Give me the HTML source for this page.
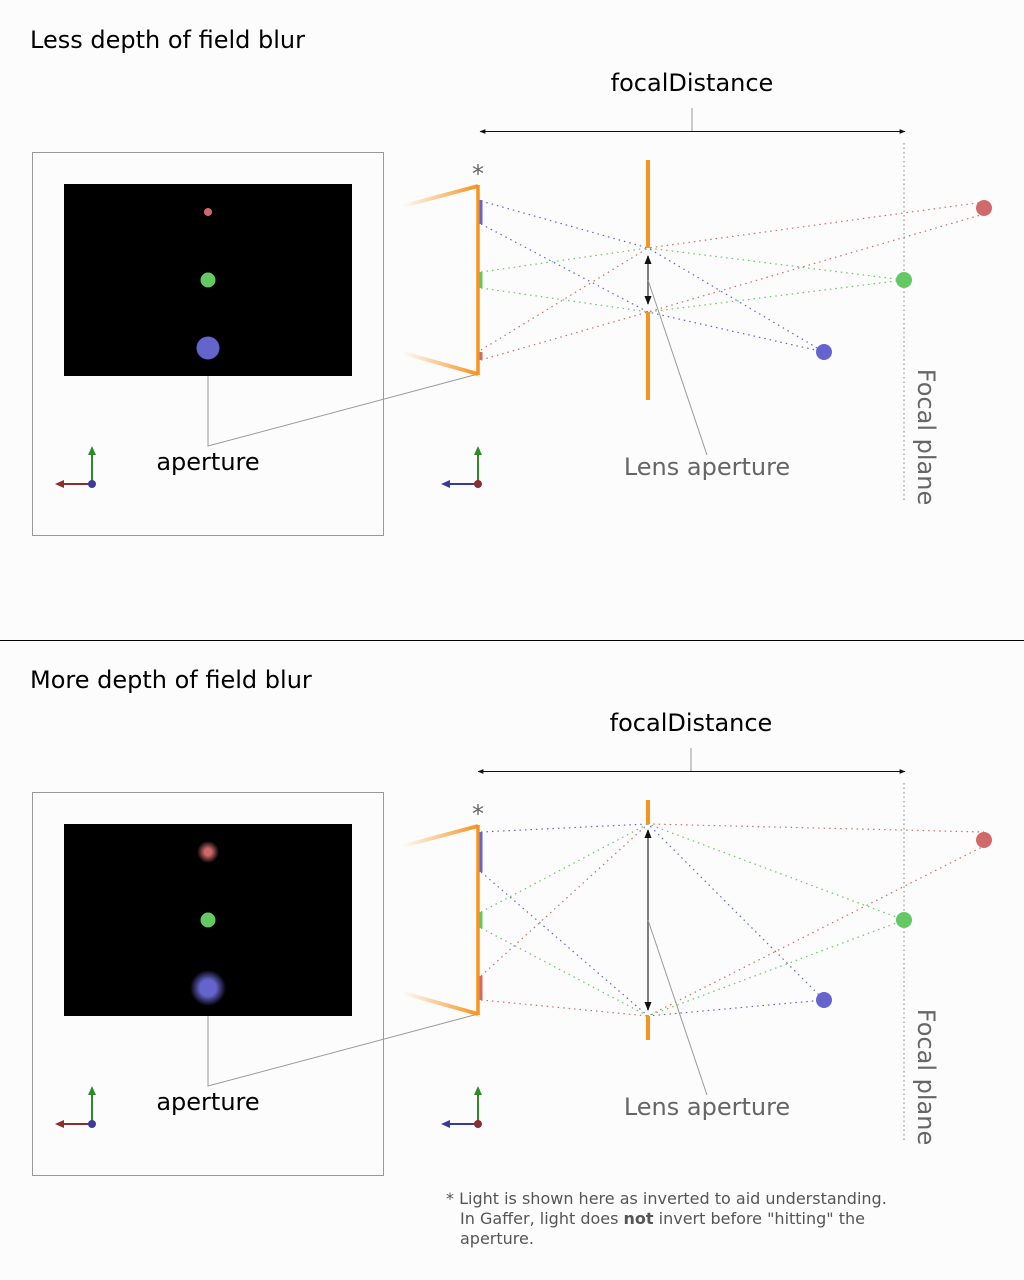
<!DOCTYPE html>
<html><head><meta charset="utf-8"><style>
html,body{margin:0;padding:0;background:#fcfcfc;}
svg{display:block;font-family:"DejaVu Sans","Liberation Sans",sans-serif;}
</style></head><body>
<svg width="1024" height="1280" viewBox="0 0 1024 1280" xmlns="http://www.w3.org/2000/svg">
<defs>
<linearGradient id="og" x1="0" y1="0" x2="1" y2="0"><stop offset="0" stop-color="#f7931e" stop-opacity="0"/><stop offset="1" stop-color="#f7931e"/></linearGradient>
<radialGradient id="rb"><stop offset="0.3" stop-color="#d06a6a"/><stop offset="1" stop-color="#d06a6a" stop-opacity="0"/></radialGradient>
<radialGradient id="bb"><stop offset="0.45" stop-color="#6464cc"/><stop offset="1" stop-color="#6464cc" stop-opacity="0"/></radialGradient>
<marker id="ah" viewBox="0 0 10 10" refX="9" refY="5" markerWidth="6" markerHeight="6" orient="auto-start-reverse"><path d="M0,1 L10,5 L0,9 z" fill="#111"/></marker>
</defs>
<rect width="1024" height="1280" fill="#fcfcfc"/>
<line x1="0" y1="640.5" x2="1024" y2="640.5" stroke="#000" stroke-width="1"/>

<!-- TOP -->
<g>
<text x="30" y="48" font-size="24" fill="#000">Less depth of field blur</text>
<rect x="32.5" y="152.5" width="351" height="383" fill="none" stroke="#999" stroke-width="1"/>
<rect x="64" y="184" width="288" height="192" fill="#000"/>
<circle cx="208" cy="212" r="4" fill="#d06a6a"/>
<circle cx="208" cy="280" r="7.5" fill="#64c864"/>
<circle cx="208" cy="348" r="11.5" fill="#6464cc"/>
<polyline points="208,376 208,446 478,374" fill="none" stroke="#999" stroke-width="1"/>
<text x="208" y="470" font-size="24" text-anchor="middle" fill="#000">aperture</text>
<line x1="403" y1="206" x2="478" y2="186" stroke="url(#og)" stroke-width="4"/>
<line x1="403" y1="353" x2="478" y2="374" stroke="url(#og)" stroke-width="4"/>
<line x1="478" y1="185" x2="478" y2="375" stroke="#f7931e" stroke-width="3.5"/>
<text x="478" y="182" font-size="24" text-anchor="middle" fill="#666">*</text>
<rect x="479.5" y="200" width="3" height="24" fill="#6464cc"/>
<rect x="479.5" y="272" width="3" height="16" fill="#64c864"/>
<rect x="479.5" y="352" width="3" height="8" fill="#d06a6a"/>
<g fill="none" stroke-width="1.2" stroke-dasharray="1.5 4">
<polyline points="481,201 648,248 824,352" stroke="#6464cc"/>
<polyline points="481,224 648,312 824,352" stroke="#6464cc"/>
<polyline points="481,272 648,248 904,280" stroke="#64c864"/>
<polyline points="481,288 648,312 904,280" stroke="#64c864"/>
<polyline points="481,350 648,248 984,202" stroke="#d06a6a"/>
<polyline points="481,360 648,312 984,214" stroke="#d06a6a"/>
</g>
<line x1="648" y1="160" x2="648" y2="248" stroke="#f7931e" stroke-width="4"/>
<line x1="648" y1="312" x2="648" y2="400" stroke="#f7931e" stroke-width="4"/>
<line x1="648" y1="256" x2="648" y2="304" stroke="#555" stroke-width="1.5" marker-start="url(#ah)" marker-end="url(#ah)"/>
<line x1="648" y1="280" x2="707" y2="455" stroke="#999" stroke-width="1"/>
<text x="707" y="475" font-size="24" text-anchor="middle" fill="#666">Lens aperture</text>
<text x="692" y="91" font-size="24" text-anchor="middle" fill="#000">focalDistance</text>
<line x1="480" y1="131.5" x2="905" y2="131.5" stroke="#111" stroke-width="1" marker-start="url(#ah)" marker-end="url(#ah)"/>
<line x1="692" y1="108" x2="692" y2="131" stroke="#999" stroke-width="1"/>
<line x1="904" y1="143" x2="904" y2="500" stroke="#999" stroke-width="1.2" stroke-dasharray="1.5 3"/>
<text transform="translate(918,437) rotate(90)" font-size="24" text-anchor="middle" fill="#666">Focal plane</text>
<circle cx="984" cy="208" r="8" fill="#d06a6a"/>
<circle cx="904" cy="280" r="8" fill="#64c864"/>
<circle cx="824" cy="352" r="8" fill="#6464cc"/>
<line x1="92" y1="484" x2="92" y2="453" stroke="#2e8b2e" stroke-width="2"/><path d="M88,455 L92,446 L96,455z" fill="#2e8b2e"/>
<line x1="92" y1="484" x2="62" y2="484" stroke="#8b2e2e" stroke-width="2"/><path d="M64,480 L55,484 L64,488z" fill="#8b2e2e"/>
<circle cx="92" cy="484" r="4" fill="#3a3a9a"/>
<line x1="478" y1="484" x2="478" y2="453" stroke="#2e8b2e" stroke-width="2"/><path d="M474,455 L478,446 L482,455z" fill="#2e8b2e"/>
<line x1="478" y1="484" x2="448" y2="484" stroke="#3a3a9a" stroke-width="2"/><path d="M450,480 L441,484 L450,488z" fill="#3a3a9a"/>
<circle cx="478" cy="484" r="4" fill="#8b2e2e"/>
</g>

<!-- BOTTOM -->
<g transform="translate(0,640)">
<text x="30" y="48" font-size="24" fill="#000">More depth of field blur</text>
<rect x="32.5" y="152.5" width="351" height="383" fill="none" stroke="#999" stroke-width="1"/>
<rect x="64" y="184" width="288" height="192" fill="#000"/>
<circle cx="208" cy="212" r="11" fill="url(#rb)"/>
<circle cx="208" cy="280" r="7.5" fill="#64c864"/>
<circle cx="208" cy="348" r="18" fill="url(#bb)"/>
<polyline points="208,376 208,446 478,374" fill="none" stroke="#999" stroke-width="1"/>
<text x="208" y="470" font-size="24" text-anchor="middle" fill="#000">aperture</text>
<line x1="403" y1="206" x2="478" y2="186" stroke="url(#og)" stroke-width="4"/>
<line x1="403" y1="353" x2="478" y2="374" stroke="url(#og)" stroke-width="4"/>
<line x1="478" y1="185" x2="478" y2="375" stroke="#f7931e" stroke-width="3.5"/>
<text x="478" y="182" font-size="24" text-anchor="middle" fill="#666">*</text>
<rect x="479.5" y="192" width="3" height="40" fill="#6464cc"/>
<rect x="479.5" y="272" width="3" height="16" fill="#64c864"/>
<rect x="479.5" y="336" width="3" height="24" fill="#d06a6a"/>
<g fill="none" stroke-width="1.2" stroke-dasharray="1.5 4">
<polyline points="481,192 648,184 824,360" stroke="#6464cc"/>
<polyline points="481,232 648,376 824,360" stroke="#6464cc"/>
<polyline points="481,272 648,184 904,280" stroke="#64c864"/>
<polyline points="481,288 648,376 904,280" stroke="#64c864"/>
<polyline points="481,336 648,184 984,192" stroke="#d06a6a"/>
<polyline points="481,360 648,376 984,206" stroke="#d06a6a"/>
</g>
<line x1="648" y1="160" x2="648" y2="184" stroke="#f7931e" stroke-width="4"/>
<line x1="648" y1="376" x2="648" y2="400" stroke="#f7931e" stroke-width="4"/>
<line x1="648" y1="190" x2="648" y2="370" stroke="#555" stroke-width="1.5" marker-start="url(#ah)" marker-end="url(#ah)"/>
<line x1="648" y1="280" x2="707" y2="455" stroke="#999" stroke-width="1"/>
<text x="707" y="475" font-size="24" text-anchor="middle" fill="#666">Lens aperture</text>
<text x="691" y="91" font-size="24" text-anchor="middle" fill="#000">focalDistance</text>
<line x1="478" y1="131.5" x2="905" y2="131.5" stroke="#111" stroke-width="1" marker-start="url(#ah)" marker-end="url(#ah)"/>
<line x1="691" y1="108" x2="691" y2="131" stroke="#999" stroke-width="1"/>
<line x1="904" y1="143" x2="904" y2="500" stroke="#999" stroke-width="1.2" stroke-dasharray="1.5 3"/>
<text transform="translate(918,437) rotate(90)" font-size="24" text-anchor="middle" fill="#666">Focal plane</text>
<circle cx="984" cy="200" r="8" fill="#d06a6a"/>
<circle cx="904" cy="280" r="8" fill="#64c864"/>
<circle cx="824" cy="360" r="8" fill="#6464cc"/>
<line x1="92" y1="484" x2="92" y2="453" stroke="#2e8b2e" stroke-width="2"/><path d="M88,455 L92,446 L96,455z" fill="#2e8b2e"/>
<line x1="92" y1="484" x2="62" y2="484" stroke="#8b2e2e" stroke-width="2"/><path d="M64,480 L55,484 L64,488z" fill="#8b2e2e"/>
<circle cx="92" cy="484" r="4" fill="#3a3a9a"/>
<line x1="478" y1="484" x2="478" y2="453" stroke="#2e8b2e" stroke-width="2"/><path d="M474,455 L478,446 L482,455z" fill="#2e8b2e"/>
<line x1="478" y1="484" x2="448" y2="484" stroke="#3a3a9a" stroke-width="2"/><path d="M450,480 L441,484 L450,488z" fill="#3a3a9a"/>
<circle cx="478" cy="484" r="4" fill="#8b2e2e"/>
</g>

<g font-size="16" fill="#555">
<text x="446" y="1204">* Light is shown here as inverted to aid understanding.</text>
<text x="460" y="1224">In Gaffer, light does <tspan font-weight="bold">not</tspan> invert before "hitting" the</text>
<text x="460" y="1244">aperture.</text>
</g>
</svg>
</body></html>
